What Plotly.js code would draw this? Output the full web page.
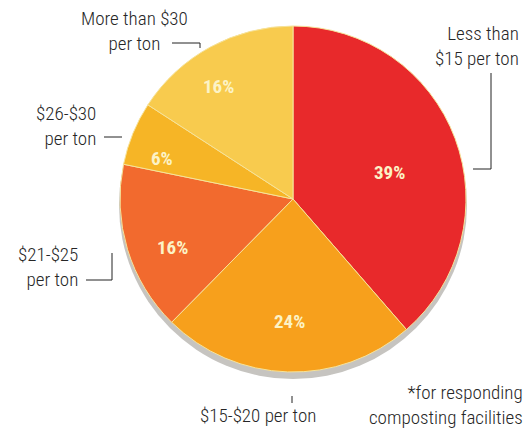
<!DOCTYPE html>
<html>
<head>
<meta charset="utf-8">
<script src="https://cdn.plot.ly/plotly-3.0.1.min.js"></script>
<style>html,body{margin:0;padding:0;background:#fff}#chart{width:526px;height:428px}</style>
</head>
<body>
<div id="chart"></div>
<script>
const categories = ["Less than $15 per ton", "$15-$20 per ton", "$21-$25 per ton", "$26-$30 per ton", "More than $30 per ton"];
const shares = [39, 24, 16, 6, 16];
const sliceColors = ["#e8292b", "#f7a01c", "#f26a2e", "#f6b526", "#f8cb4e"];
const labelLines = [["Less than", "$15 per ton"], ["$15-$20 per ton"], ["$21-$25", "per ton"], ["$26-$30", "per ton"], ["More than $30", "per ton"]];
const footnote = ["*for responding", "composting facilities"];

const font = "Roboto Condensed, Liberation Sans Narrow, Arial Narrow, sans-serif";
const W = 526, H = 428;
const px = v => v / W, py = v => 1 - v / H;

// pie geometry (layout)
const cx = 293, cy = 199, R = 173;
const pieDomain = {x: [px(cx - R), px(cx + R)], y: [py(cy + R), py(cy - R)]};
const shadowDomain = {x: [px(cx - R - 1), px(cx + R + 1)], y: [py(cy + 6 + R + 1), py(cy + 6 - R - 1)]};

const traces = [
  {
    type: "pie", values: [1],
    marker: {colors: ["#c6c4c0"], line: {width: 0}},
    textinfo: "none", hoverinfo: "skip", sort: false, showlegend: false,
    domain: shadowDomain
  },
  {
    type: "pie", labels: categories, values: shares,
    sort: false, direction: "clockwise", rotation: 0,
    marker: {colors: sliceColors, line: {color: "#f6e39a", width: 1}},
    textinfo: "none", hoverinfo: "label+value", showlegend: false,
    domain: pieDomain
  }
];

// inside percentage labels placed from the data (mid-angle of each slice)
const radFrac = [0.58, 0.71, 0.75, 0.79, 0.78];
const angNudge = [5, 0, -5, -5, -5];
const total = shares.reduce((a, b) => a + b, 0);
const annotations = [];
let cum = 0;
shares.forEach((v, i) => {
  const mid = (cum + v / 2) / total * 360 + angNudge[i];
  cum += v;
  const a = mid * Math.PI / 180, r = radFrac[i] * R;
  annotations.push({
    x: px(cx + r * Math.sin(a)), y: py(cy - r * Math.cos(a)), xref: "paper", yref: "paper",
    text: "<b>" + v + "%</b>", showarrow: false, xanchor: "center", yanchor: "middle",
    font: {family: font, size: 19, color: "#fcf3c6"}
  });
});

const txt = (x, y, lines, xanchor) => annotations.push({
  x: px(x), y: py(y), xref: "paper", yref: "paper", text: lines.join("<br>"), showarrow: false,
  xanchor: xanchor, yanchor: "middle", align: xanchor,
  font: {family: font, size: 19, color: "#262626", weight: 300}
});
txt(521, 46, labelLines[0], "right");
txt(258, 415, labelLines[1], "center");
txt(80, 267, labelLines[2], "right");
txt(98, 126, labelLines[3], "right");
txt(134, 31, labelLines[4], "center");
txt(525, 405, footnote, "right");

const L = {color: "#222", width: 1};
const line = (x0, y0, x1, y1) => ({type: "line", xref: "paper", yref: "paper", x0: px(x0), y0: py(y0), x1: px(x1), y1: py(y1), line: L});
const shapes = [
  line(491, 73, 491, 169), line(491, 169, 473, 169),
  line(292, 396, 292, 403),
  line(86, 280, 112, 280), line(112, 280, 112, 253),
  line(104, 137, 122, 137),
  line(172, 43, 200, 43), line(200, 43, 200, 48)
];

Plotly.newPlot("chart", traces, {
  width: W, height: H,
  margin: {l: 0, r: 0, t: 0, b: 0},
  paper_bgcolor: "#ffffff",
  annotations: annotations,
  shapes: shapes
}, {staticPlot: true});
</script>
</body>
</html>
